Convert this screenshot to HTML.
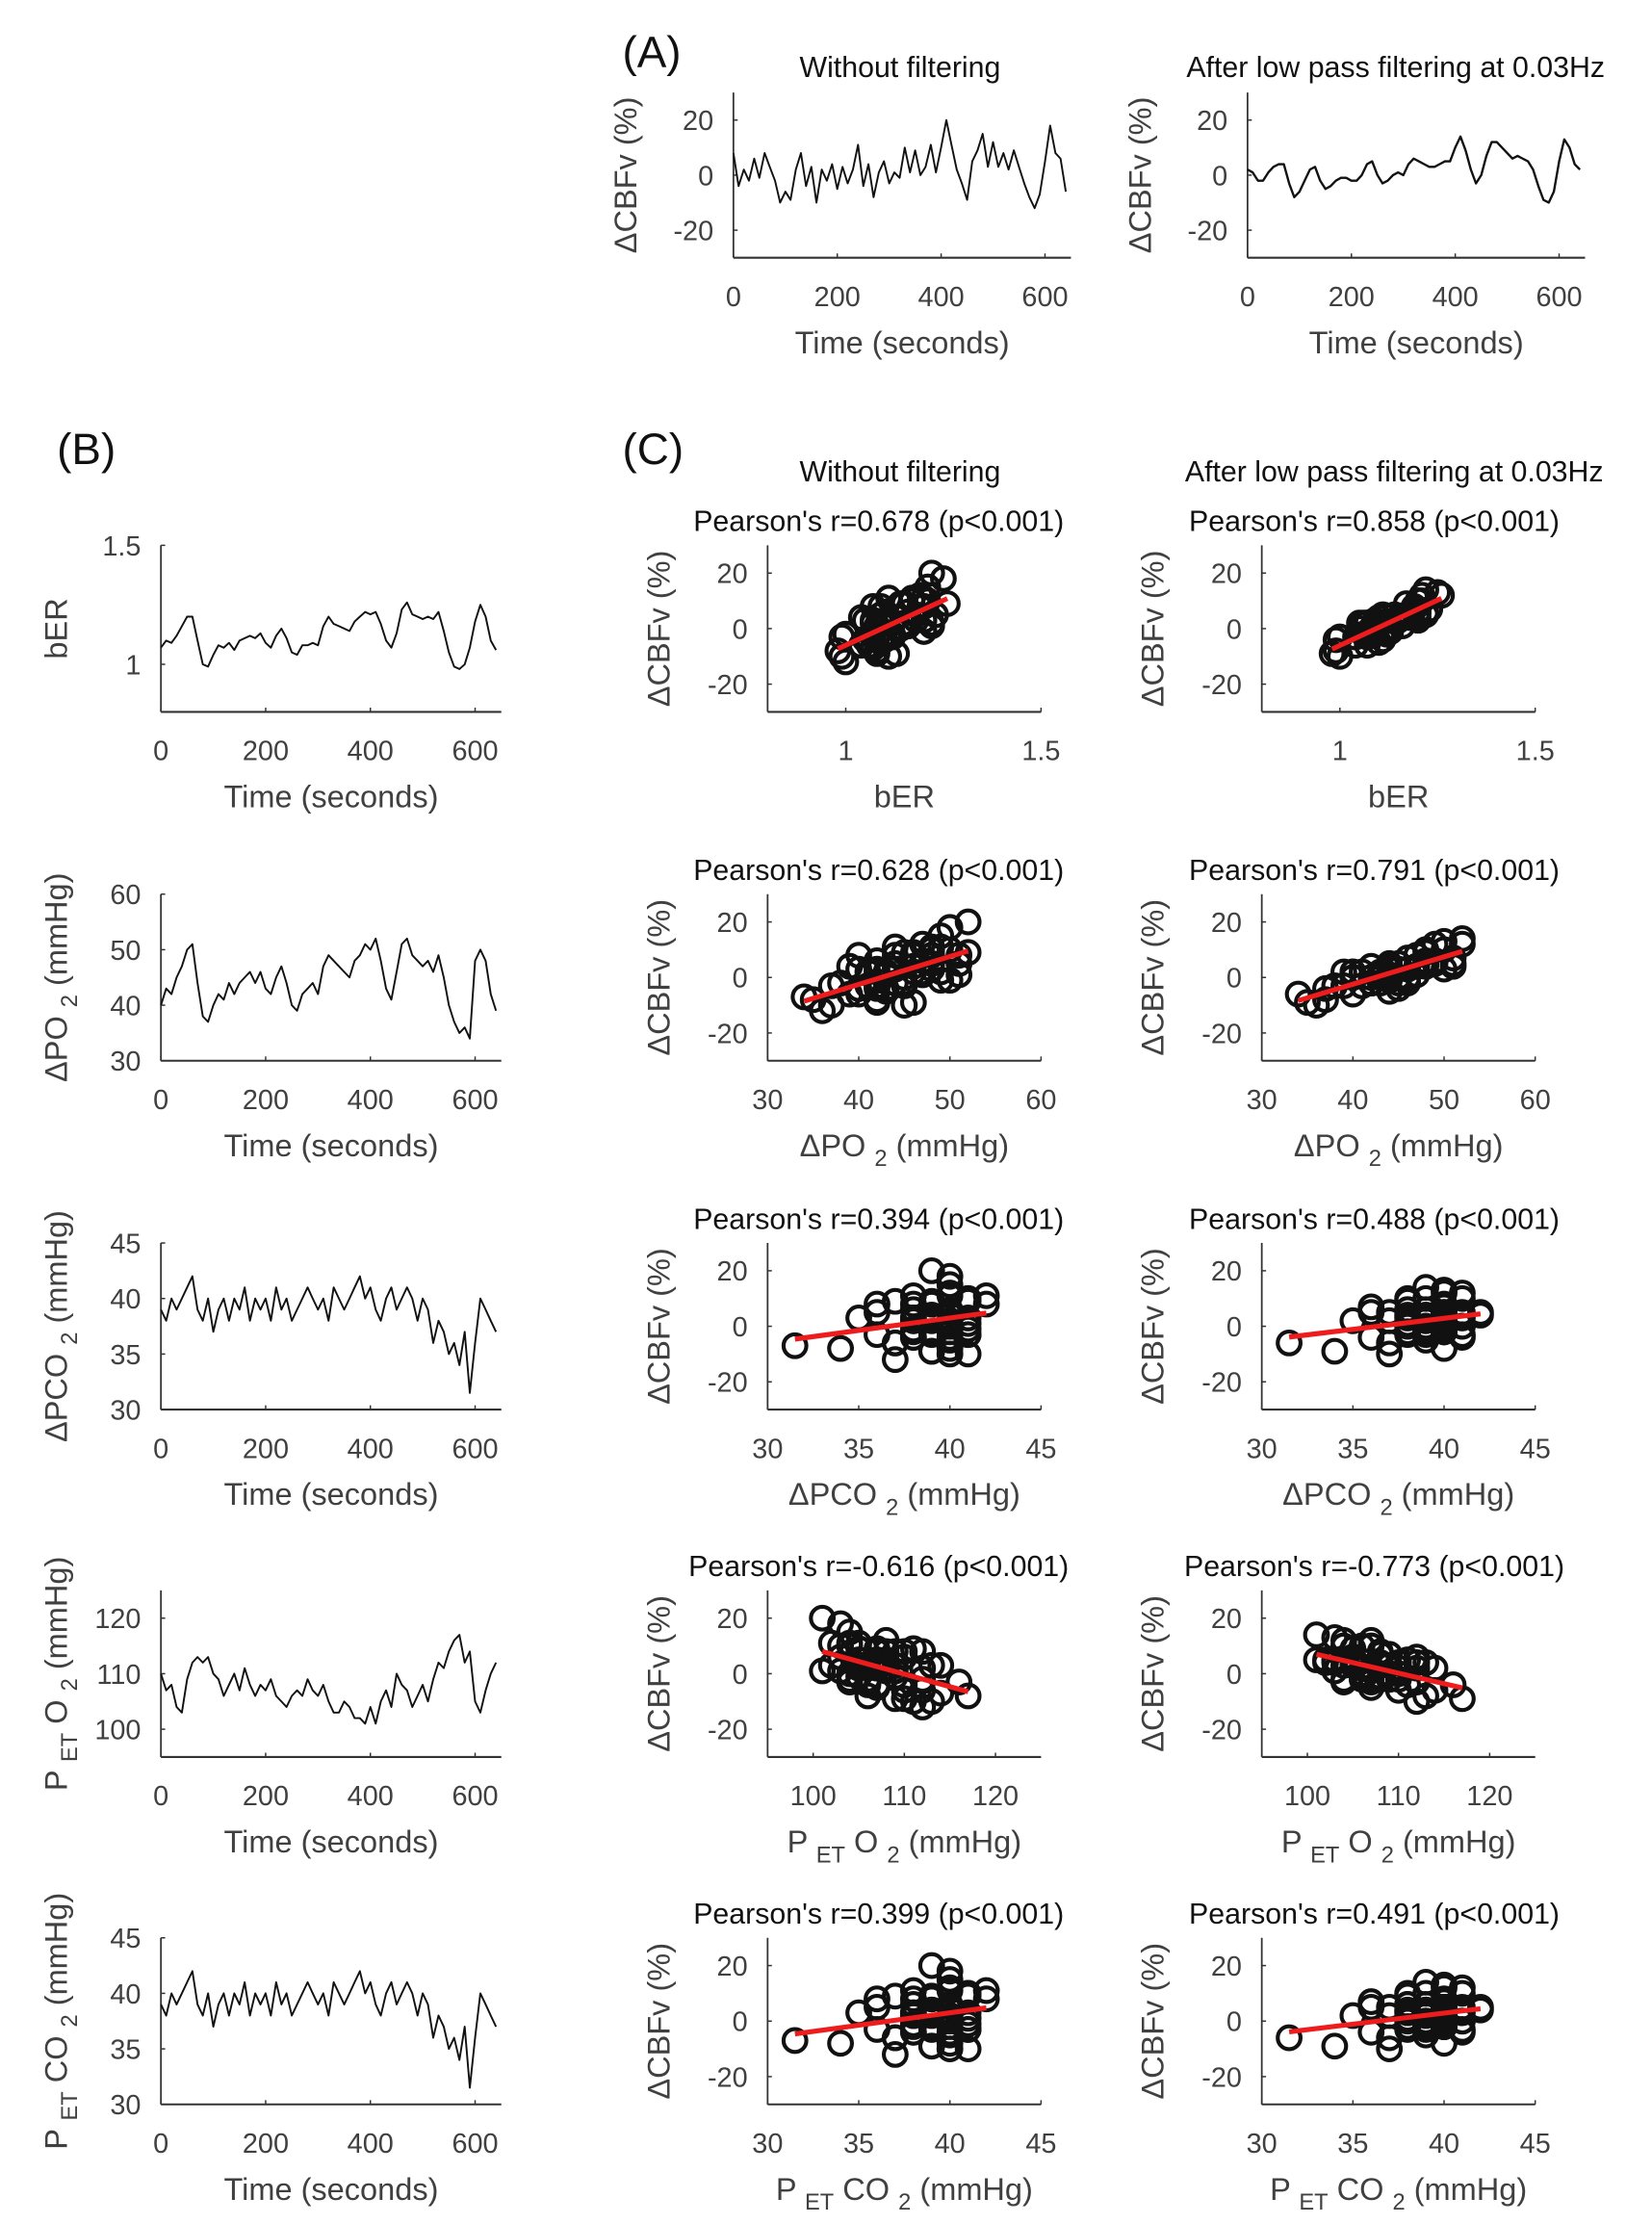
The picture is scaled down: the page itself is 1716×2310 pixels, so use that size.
<!DOCTYPE html>
<html><head><meta charset="utf-8"><style>
html,body{margin:0;padding:0;background:#fff;}
svg{display:block;font-family:"Liberation Sans",sans-serif;}
</style></head><body>
<svg id="fig" width="1716" height="2310" viewBox="0 0 1160 1562" preserveAspectRatio="none" xmlns="http://www.w3.org/2000/svg">
<text x="437" y="47" font-size="31" fill="#111">(A)</text>
<text x="40" y="326" font-size="31" fill="#111">(B)</text>
<text x="437" y="326" font-size="31" fill="#111">(C)</text>
<text x="632" y="54" font-size="20.5" text-anchor="middle" fill="#111">Without filtering</text>
<text x="980" y="54" font-size="20.5" text-anchor="middle" fill="#111">After low pass filtering at 0.03Hz</text>
<text x="632" y="338" font-size="20.5" text-anchor="middle" fill="#111">Without filtering</text>
<text x="979" y="338" font-size="20.5" text-anchor="middle" fill="#111">After low pass filtering at 0.03Hz</text>
</svg>
<script>
// ---- data (sampled every 10 s, t = 0..640) ----
const cbfRaw = [8,-4,2,-2,6,-1,8,3,-2,-10,-6,-9,2,8,-4,3,-10,2,-2,4,-5,3,-3,2,11,-4,4,-8,1,5,-3,1,-1,10,1,9,0,3,11,1,10,20,11,2,-3,-9,5,9,15,3,12,3,8,2,9,3,-3,-8,-12,-7,5,18,8,6,-6];
const cbfFilt = [2,1,-2,-2,1,3,4,4,-3,-8,-6,-2,2,3,-2,-5,-4,-2,-1,-1,-2,-2,0,4,5,0,-3,-2,0,1,0,4,6,5,4,3,3,4,5,5,10,14,9,2,-3,0,7,12,12,10,8,6,7,6,5,2,-4,-9,-10,-6,5,13,10,4,2];
const bER = [1.07,1.10,1.09,1.12,1.16,1.20,1.20,1.10,1.00,0.99,1.04,1.08,1.07,1.09,1.06,1.10,1.11,1.12,1.11,1.13,1.09,1.07,1.12,1.15,1.11,1.05,1.04,1.08,1.08,1.09,1.08,1.16,1.20,1.17,1.16,1.15,1.14,1.18,1.20,1.22,1.21,1.22,1.17,1.10,1.07,1.13,1.23,1.26,1.21,1.20,1.19,1.20,1.19,1.22,1.14,1.05,0.99,0.98,1.00,1.07,1.18,1.25,1.20,1.10,1.06];
const po2 = [40,43,42,45,47,50,51,44,38,37,40,42,41,44,42,44,45,46,44,46,43,42,45,47,44,40,39,42,43,44,42,47,49,48,47,46,45,48,49,51,50,52,48,43,41,46,51,52,49,48,47,48,46,49,45,40,37,35,36,34,48,50,48,42,39];
const pco2 = [39,38,40,39,40,41,42,39,38,40,37,39,40,38,40,39,41,38,40,39,40,38,41,39,40,38,39,40,41,40,39,40,38,41,40,39,40,41,42,40,41,39,38,40,41,39,40,41,40,38,40,39,36,38,37,35,36,34,37,31.5,36,40,39,38,37];
const peto2 = [110,107,108,104,103,109,112,113,112,113,110,109,106,108,110,107,111,108,106,108,107,109,106,105,104,106,107,106,109,107,106,108,105,103,103,105,104,102,102,101,104,101,105,107,104,110,108,107,104,106,108,105,109,112,111,114,116,117,112,114,105,103,107,110,112];
const petco2 = [39,38,40,39,40,41,42,39,38,40,37,39,40,38,40,39,41,38,40,39,40,38,41,39,40,38,39,40,41,40,39,40,38,41,40,39,40,41,42,40,41,39,38,40,41,39,40,41,40,38,40,39,36,38,37,35,36,34,37,31.5,36,40,39,38,37];
const timeTicks = [0,200,400,600];
const cbfTicks = [-20,0,20];
const pearsonRaw = ["Pearson's r=0.678 (p<0.001)","Pearson's r=0.628 (p<0.001)","Pearson's r=0.394 (p<0.001)","Pearson's r=-0.616 (p<0.001)","Pearson's r=0.399 (p<0.001)"];
const pearsonFilt = ["Pearson's r=0.858 (p<0.001)","Pearson's r=0.791 (p<0.001)","Pearson's r=0.488 (p<0.001)","Pearson's r=-0.773 (p<0.001)","Pearson's r=0.491 (p<0.001)"];
const varTicks = [[1,1.5],[30,40,50,60],[30,35,40,45],[100,110,120],[30,35,40,45]];
const varTickLabels = [["1","1.5"],["30","40","50","60"],["30","35","40","45"],["100","110","120"],["30","35","40","45"]];
const varLims = [[0.8,1.5],[30,60],[30,45],[95,125],[30,45]];

const NS = "http://www.w3.org/2000/svg";
const svg = document.getElementById('fig');
function mk(tag, attrs, parent){ const e=document.createElementNS(NS,tag); for(const k in attrs) e.setAttribute(k,attrs[k]); (parent||svg).appendChild(e); return e; }

function axes(name, box, xlim, ylim, xt, xtl, yt, ytl, xlabel, ylabel, ylabelX){
  const g = mk('g',{});
  
  
  const sx = v => box.l + (v - xlim[0]) / (xlim[1] - xlim[0]) * (box.r - box.l);
  const sy = v => box.b - (v - ylim[0]) / (ylim[1] - ylim[0]) * (box.b - box.t);
  const ya = mk('line',{x1:box.l,y1:box.t,x2:box.l,y2:box.b,stroke:'#333','stroke-width':1.2},g);
  
  
  const xa = mk('line',{x1:box.l,y1:box.b,x2:box.r,y2:box.b,stroke:'#333','stroke-width':1.4},g);
  
  
  xt.forEach((v,i)=>{
    const x = sx(v);
    mk('line',{x1:x,y1:box.b,x2:x,y2:box.b-3,stroke:'#333','stroke-width':1},g);
    const t = mk('text',{x:x,y:box.b+34,'font-size':19.5,'text-anchor':'middle',fill:'#404040'},g);
    t.textContent = xtl[i];
    
    
  });
  yt.forEach((v,i)=>{
    const y = sy(v);
    mk('line',{x1:box.l,y1:y,x2:box.l+3,y2:y,stroke:'#333','stroke-width':1},g);
    const t = mk('text',{x:box.l-14,y:y+7,'font-size':19.5,'text-anchor':'end',fill:'#404040'},g);
    t.textContent = ytl[i];
    
    
  });
  const xl = mk('text',{x:(box.l+box.r)/2,y:box.b+67,'font-size':22,'text-anchor':'middle',fill:'#404040'},g);
  xl.innerHTML = xlabel;
  
  
  const cy = (box.t+box.b)/2;
  const yl = mk('text',{x:ylabelX,y:cy,'font-size':22,'text-anchor':'middle',fill:'#404040',transform:`rotate(-90 ${ylabelX} ${cy})`},g);
  yl.innerHTML = ylabel;
  
  
  return {g,sx,sy};
}
function times(n){ const a=[]; for(let i=0;i<n;i++) a.push(i*640/(n-1)); return a; }
function line(ax, xs, ys, name, color, w){
  const p = xs.map((x,i)=>`${i?'L':'M'}${ax.sx(x).toFixed(1)},${ax.sy(ys[i]).toFixed(1)}`).join('');
  const e = mk('path',{d:p,fill:'none',stroke:color||'#111','stroke-width':w||1.3,'stroke-linejoin':'round'},ax.g);
  
  
}
function scatter(ax, xs, ys, name){
  xs.forEach((x,i)=>{
    const c = mk('circle',{cx:ax.sx(x),cy:ax.sy(ys[i]),r:8,fill:'none',stroke:'#111','stroke-width':2.8},ax.g);
    
    
  });
  const n=xs.length; let mx=0,my=0; xs.forEach((x,i)=>{mx+=x;my+=ys[i];}); mx/=n; my/=n;
  let sxy=0,sxx=0; xs.forEach((x,i)=>{sxy+=(x-mx)*(ys[i]-my); sxx+=(x-mx)*(x-mx);});
  const b=sxy/sxx, a=my-b*mx; const x0=Math.min(...xs), x1=Math.max(...xs);
  const l = mk('line',{x1:ax.sx(x0),y1:ax.sy(a+b*x0),x2:ax.sx(x1),y2:ax.sy(a+b*x1),stroke:'#ee1c1c','stroke-width':3.5},ax.g);
  
  
}

const cbfLabel = 'ΔCBFv (%)';
const timeLabel = 'Time (seconds)';
const tl = timeTicks.map(String), cl = cbfTicks.map(String);
const a1 = axes('cbfv-raw-timeseries',{l:515,r:752,t:65,b:181},[0,650],[-30,30],timeTicks,tl,cbfTicks,cl,timeLabel,cbfLabel,447);
line(a1, times(cbfRaw.length), cbfRaw, 'cbfv-raw-line');
const a2 = axes('cbfv-filtered-timeseries',{l:876,r:1113,t:65,b:181},[0,650],[-30,30],timeTicks,tl,cbfTicks,cl,timeLabel,cbfLabel,808);
line(a2, times(cbfFilt.length), cbfFilt, 'cbfv-filtered-line', '#111', 1.6);

const series = [bER, po2, pco2, peto2, petco2];
const names = ['ber','po2','pco2','peto2','petco2'];
const sub = (s)=>`<tspan dy="7" font-size="16">${s}</tspan><tspan dy="-7"> </tspan>`;
const xLabels = ['bER', 'ΔPO '+sub('2')+'(mmHg)', 'ΔPCO '+sub('2')+'(mmHg)', 'P '+sub('ET')+'O '+sub('2')+'(mmHg)', 'P '+sub('ET')+'CO '+sub('2')+'(mmHg)'];
const tops = [383,628,873,1117,1361];
series.forEach((s,k)=>{
  const t = tops[k], b = t+117;
  const bx = axes(names[k]+'-timeseries',{l:113,r:352,t:t,b:b},[0,650],varLims[k],timeTicks,tl,varTicks[k],varTickLabels[k],timeLabel,xLabels[k],47);
  line(bx, times(s.length), s, names[k]+'-line');
  const c1 = axes(names[k]+'-vs-cbfv-raw',{l:539,r:731,t:t,b:b},varLims[k],[-30,30],varTicks[k],varTickLabels[k],cbfTicks,cl,xLabels[k],cbfLabel,470);
  scatter(c1, s, cbfRaw, names[k]+'-raw');
  const p1 = mk('text',{x:617,y:t-10,'font-size':20.5,'text-anchor':'middle',fill:'#111'});
  p1.textContent = pearsonRaw[k];
  
  
  const c2 = axes(names[k]+'-vs-cbfv-filtered',{l:886,r:1078,t:t,b:b},varLims[k],[-30,30],varTicks[k],varTickLabels[k],cbfTicks,cl,xLabels[k],cbfLabel,817);
  scatter(c2, s, cbfFilt, names[k]+'-filtered');
  const p2 = mk('text',{x:965,y:t-10,'font-size':20.5,'text-anchor':'middle',fill:'#111'});
  p2.textContent = pearsonFilt[k];
  
  
});
</script>
</body></html>
